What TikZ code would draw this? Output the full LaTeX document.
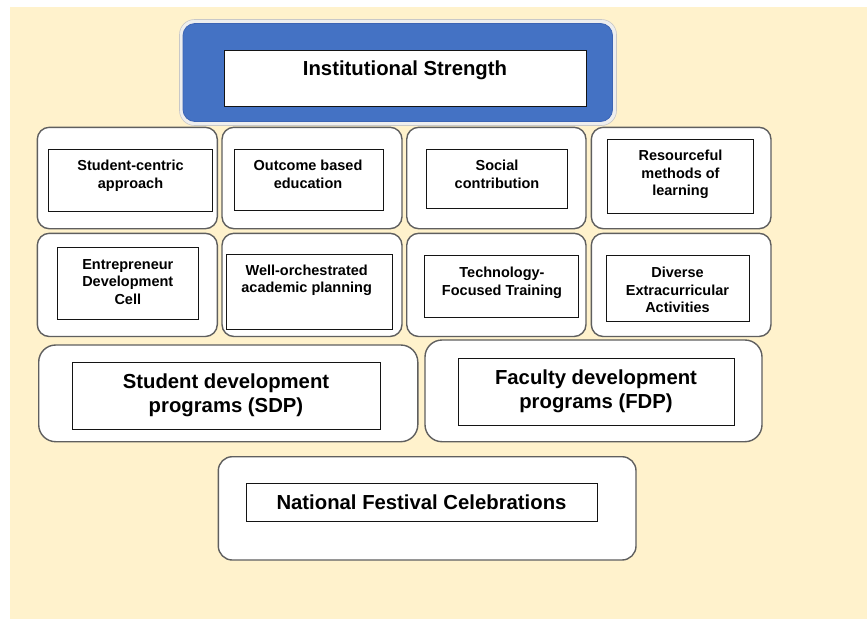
\documentclass[tikz,border=0pt]{standalone}
\usepackage{fontspec}
\setmainfont{Liberation Sans}

\begin{document}
\begin{tikzpicture}[x=1pt,y=1pt,yscale=-1,xscale=1,
	card/.style={draw={rgb, 255:red, 95; green, 95; blue, 95 }, fill=white, line width=1.4, rounded corners=12},
	bigcard/.style={card, rounded corners=17},
	frame/.style={draw={rgb, 255:red, 20; green, 20; blue, 20 }, fill=white, line width=0.9},
	smalltxt/.style={anchor=base, inner sep=0.75pt, align=center, font=\fontsize{14.5}{17.5}\selectfont\bfseries},
	bigtxt/.style={anchor=base, inner sep=0.75pt, align=center, font=\fontsize{20.3}{24.5}\selectfont\bfseries}]
		\useasboundingbox (0,0) rectangle (867,619);
		
		%Shape: Rectangle (background)
		\fill [color={rgb, 255:red, 255; green, 242; blue, 204 }] (10,7) rectangle (867,619);
		
		%Rounded Rect (top, halo and blue)
		\draw [draw={rgb, 255:red, 200; green, 200; blue, 200 }, fill={rgb, 255:red, 238; green, 238; blue, 238 }, line width=0.6, rounded corners=15] (179.5,19.5) rectangle (616.5,125.5);
		\draw [draw={rgb, 255:red, 60; green, 100; blue, 180 }, fill={rgb, 255:red, 68; green, 114; blue, 196 }, line width=0.8, rounded corners=12] (183,23.5) rectangle (612.5,121.5);
		%Shape: Rectangle
		\draw [frame] (224,50) rectangle (586.5,106.5);
		
		%Rounded Rect (first row)
		\draw [card] (37.3,127.3) rectangle (217.3,228.7);
		\draw [card] (222,127.3) rectangle (402,228.7);
		\draw [card] (406.7,127.3) rectangle (586,228.7);
		\draw [card] (591.3,127.3) rectangle (771,228.7);
		%Shape: Rectangle
		\draw [frame] (48.3,149.3) rectangle (212,211);
		\draw [frame] (234,149.3) rectangle (383.3,210);
		\draw [frame] (426.3,149.3) rectangle (567.7,208.3);
		\draw [frame] (607.3,139.3) rectangle (753.3,213.3);
		
		%Rounded Rect (second row)
		\draw [card] (37.3,233.3) rectangle (217.3,336.5);
		\draw [card] (222,233.3) rectangle (402,336.5);
		\draw [card] (406.7,233.3) rectangle (586,336.5);
		\draw [card] (591.3,233.3) rectangle (771,336.5);
		%Shape: Rectangle
		\draw [frame] (57.3,247.3) rectangle (198.3,319.3);
		\draw [frame] (226,254) rectangle (392,329);
		\draw [frame] (424,255.7) rectangle (578.7,317);
		\draw [frame] (606.7,255.7) rectangle (749,321.3);
		
		%Rounded Rect (programs)
		\draw [bigcard] (38.7,345) rectangle (417.8,441.7);
		\draw [bigcard] (425,340) rectangle (762,441.7);
		%Shape: Rectangle
		\draw [frame] (72.7,362.3) rectangle (380,429.3);
		\draw [frame] (458.5,358.3) rectangle (734.3,425);
		
		%Rounded Rect (bottom)
		\draw [card, rounded corners=14] (218.3,456.7) rectangle (636,560);
		%Shape: Rectangle
		\draw [frame] (246,483.3) rectangle (597.7,521.7);
		
		% Text Node (base = last line)
		\draw (405,75) node [bigtxt] (strength) {Institutional Strength};
		% Text Node
		\draw (130.5,188.2) node [smalltxt] (student) {Student-centric\\approach};
		% Text Node
		\draw (308,188.2) node [smalltxt] (outcome) {Outcome based\\education};
		% Text Node
		\draw (497,188.2) node [smalltxt] (social) {Social\\contribution};
		% Text Node
		\draw (680.5,195.7) node [smalltxt] (resource) {Resourceful\\methods of\\learning};
		% Text Node
		\draw (127.8,304) node [smalltxt] (edc) {Entrepreneur\\Development\\Cell};
		% Text Node
		\draw (306.7,292.5) node [smalltxt] (planning) {Well-orchestrated\\academic planning};
		% Text Node
		\draw (502,295.2) node [smalltxt] (tech) {Technology-\\Focused Training};
		% Text Node
		\draw (677.5,312.7) node [smalltxt] (extra) {Diverse\\Extracurricular\\Activities};
		% Text Node
		\draw (226,412.8) node [bigtxt] (sdp) {Student development\\programs (SDP)};
		% Text Node
		\draw (596,408.5) node [bigtxt] (fdp) {Faculty development\\programs (FDP)};
		% Text Node
		\draw (421.5,509.5) node [bigtxt] (festival) {National Festival Celebrations};
	\end{tikzpicture}
\end{document}
